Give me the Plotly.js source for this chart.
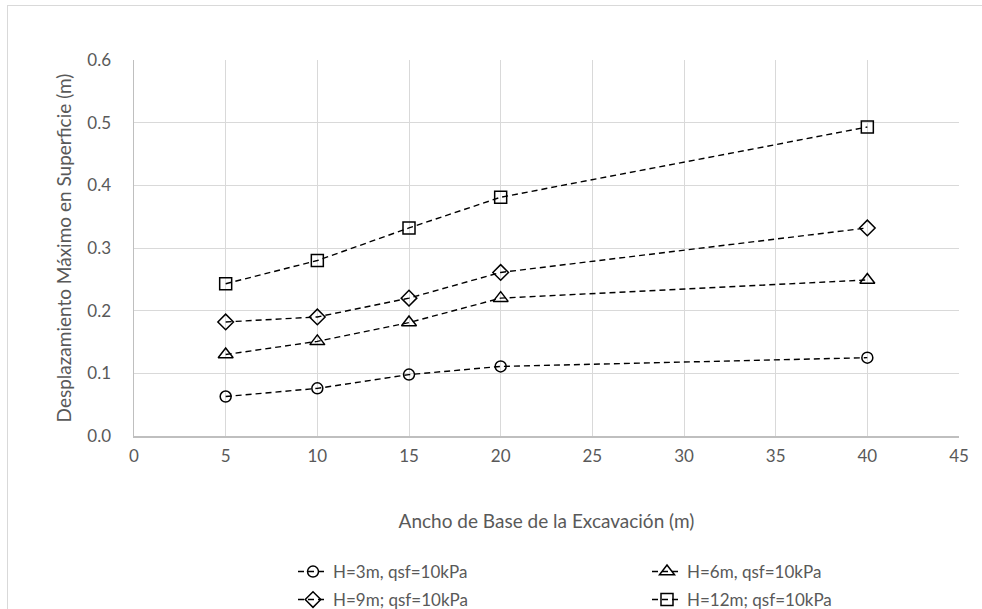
<!DOCTYPE html>
<html>
<head>
<meta charset="utf-8">
<script src="https://cdn.plot.ly/plotly-3.0.1.min.js"></script>
<style>
html,body{margin:0;padding:0;background:#fff;}
#frame{position:absolute;left:7px;top:5px;width:990px;height:620px;border-left:1.5px solid #d9d9d9;border-top:1.5px solid #d9d9d9;}
#chart{position:absolute;left:0;top:0;width:982px;height:609px;}
</style>
</head>
<body>
<div id="frame"></div>
<div id="chart"></div>
<script>
const anchoBase = [5, 10, 15, 20, 40];
const h3m  = [0.063, 0.076, 0.098, 0.111, 0.125];
const h6m  = [0.130, 0.151, 0.181, 0.220, 0.249];
const h9m  = [0.182, 0.190, 0.220, 0.261, 0.332];
const h12m = [0.243, 0.280, 0.332, 0.381, 0.493];
const seriesNames = ['H=3m, qsf=10kPa', 'H=6m, qsf=10kPa', 'H=9m; qsf=10kPa', 'H=12m; qsf=10kPa'];
const xTicks = [0, 5, 10, 15, 20, 25, 30, 35, 40, 45];
const yTicks = [0, 0.1, 0.2, 0.3, 0.4, 0.5, 0.6];

const symbols = ['circle-open', 'triangle-up-open', 'diamond-open', 'square-open'];
const sizes = [11, 13, 12, 12];
const legendIds = ['legend', 'legend', 'legend2', 'legend2'];
const allY = [h3m, h6m, h9m, h12m];

const FONT = 'Lato, "Open Sans", sans-serif';
const traces = allY.map((ys, i) => ({
  x: anchoBase, y: ys, name: seriesNames[i], type: 'scatter', mode: 'lines+markers',
  legend: legendIds[i],
  line: {color: '#000', width: 1.4, dash: '6px,4px'},
  marker: {symbol: symbols[i], size: sizes[i], color: '#000', line: {color: '#000', width: 1.5}}
}));

const legendBase = {
  orientation: 'h', xref: 'container', yref: 'container', xanchor: 'left', yanchor: 'middle',
  entrywidth: 309, entrywidthmode: 'pixels',
  font: {size: 17, color: '#595959', family: FONT}, bgcolor: 'rgba(0,0,0,0)'
};

const layout = {
  width: 982, height: 609,
  paper_bgcolor: 'rgba(0,0,0,0)', plot_bgcolor: '#fff',
  margin: {l: 134, r: 23, t: 60, b: 173},
  font: {family: FONT, color: '#595959', size: 17},
  xaxis: {
    range: [0, 45], tickvals: xTicks, ticktext: xTicks.map(String), automargin: false,
    showgrid: true, gridcolor: '#d9d9d9', gridwidth: 1,
    showline: true, linecolor: '#bfbfbf', linewidth: 1.5, mirror: false,
    zeroline: false, ticks: '', ticklen: 0, ticklabelstandoff: 4,
    tickfont: {size: 17, color: '#595959'},
    title: {text: 'Ancho de Base de la Excavación (m)', font: {size: 19, color: '#595959'}, standoff: 50}
  },
  yaxis: {
    range: [0, 0.6], tickvals: yTicks, ticktext: yTicks.map(v => v.toFixed(1)), automargin: false,
    showgrid: true, gridcolor: '#d9d9d9', gridwidth: 1,
    showline: true, linecolor: '#bfbfbf', linewidth: 1.5,
    zeroline: false, ticks: '', ticklen: 0, ticklabelstandoff: 18,
    tickfont: {size: 17, color: '#595959'},
    title: {text: 'Desplazamiento Máximo en Superficie (m)', font: {size: 19, color: '#595959'}, standoff: 10}
  },
  showlegend: true,
  legend: Object.assign({}, legendBase, {x: 293/982, y: 1 - 572/609}),
  legend2: Object.assign({}, legendBase, {x: 293/982, y: 1 - 600/609})
};

Plotly.newPlot('chart', traces, layout, {displayModeBar: false, staticPlot: true});
</script>
</body>
</html>
